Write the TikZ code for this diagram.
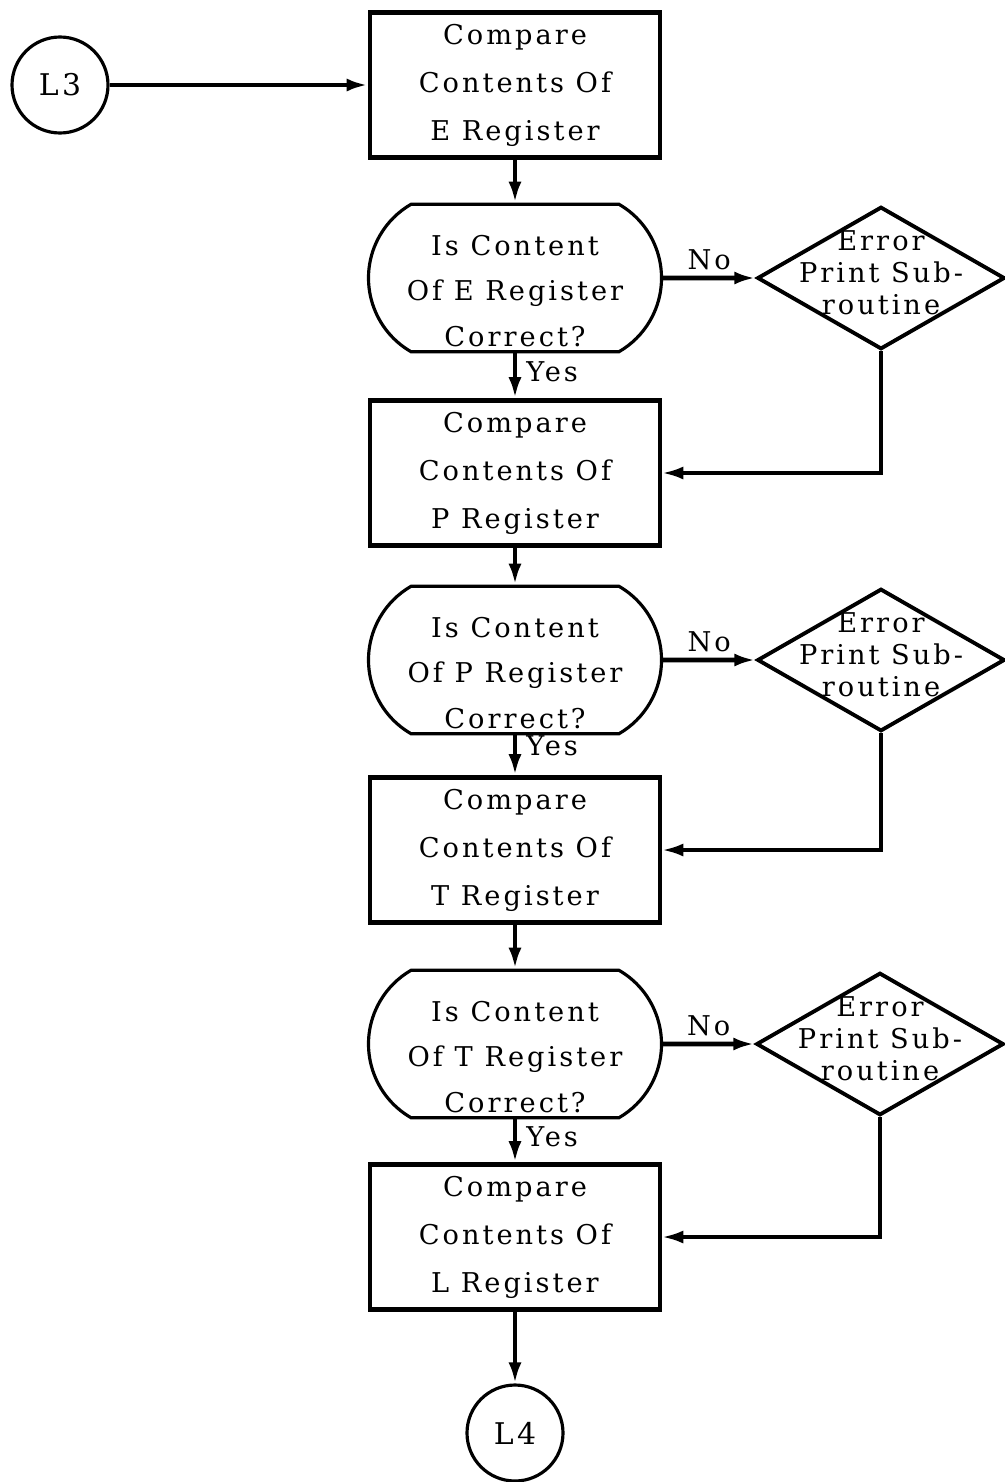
\documentclass[tikz,border=0pt]{standalone}
\usepackage{fontspec}
\setmainfont{DejaVu Serif}[LetterSpace=11]
\usetikzlibrary{shapes.geometric, shapes.misc, arrows.meta}
\newcommand{\flowtext}{\fontsize{15.5}{27.3}\selectfont}
\tikzstyle{process} = [rectangle, minimum width=5.8cm, minimum height=2.9cm, text centered, align=center, draw=black, line width=2.6pt, font=\flowtext]
\tikzstyle{decision} = [rounded rectangle, rounded rectangle arc length=120, minimum width=5.86cm, minimum height=2.95cm, inner sep=0pt, draw=black, line width=1.8pt]
\tikzstyle{dectext} = [align=center, yshift=-0.26cm, font=\fontsize{15.5}{26}\selectfont]
\tikzstyle{errsub} = [diamond, minimum width=4.95cm, minimum height=2.85cm, inner sep=0pt, draw=black, line width=2.2pt]
\tikzstyle{errtext} = [align=center, yshift=3pt, font=\fontsize{15.5}{18}\selectfont]
\tikzstyle{connector} = [circle, minimum size=1.92cm, draw=black, line width=1.8pt, font=\fontsize{17}{20}\selectfont]
\tikzstyle{arrow} = [line width=2.8pt, -{Latex[length=0.42cm, width=0.26cm]}]
\tikzstyle{back} = [line width=2pt, -{Latex[length=0.42cm, width=0.26cm]}]
\begin{document}
\begin{tikzpicture}[node distance=3.86cm]
\useasboundingbox (0,0) rectangle (20.1,-29.64);

%% NODES

\node (cmpE) [process] at (10.3,-1.7) {Compare\\Contents Of\\E Register};
\node (Lthree) [connector, left of=cmpE, node distance=9.1cm] {L3};
\node (chkE) [decision, below of=cmpE, label={[dectext]center:{Is Content\\Of E Register\\Correct?}}] {};
\node (errE) [errsub, right of=chkE, node distance=7.32cm, label={[errtext]center:{Error\\Print Sub-\\routine}}] {};
\node (cmpP) [process, below of=chkE, node distance=3.9cm] {Compare\\Contents Of\\P Register};
\node (chkP) [decision, below of=cmpP, node distance=3.74cm, label={[dectext]center:{Is Content\\Of P Register\\Correct?}}] {};
\node (errP) [errsub, right of=chkP, node distance=7.32cm, label={[errtext]center:{Error\\Print Sub-\\routine}}] {};
\node (cmpT) [process, below of=chkP, node distance=3.8cm] {Compare\\Contents Of\\T Register};
\node (chkT) [decision, below of=cmpT, node distance=3.88cm, label={[dectext]center:{Is Content\\Of T Register\\Correct?}}] {};
\node (errT) [errsub, right of=chkT, node distance=7.3cm, label={[errtext]center:{Error\\Print Sub-\\routine}}] {};
\node (cmpL) [process, below of=chkT] {Compare\\Contents Of\\L Register};
\node (Lfour) [connector, below of=cmpL, node distance=3.92cm] {L4};

%% ARROWS

\draw [arrow] (Lthree) -- (cmpE);
\draw [arrow] (cmpE) -- (chkE);
\draw [arrow] (chkE) -- node[above] {\flowtext No} (errE);
\draw [arrow] (chkE) -- node[right, pos=0.42, inner sep=5pt] {\flowtext Yes} (cmpP);
\draw [back] (errE.south) |- (cmpP.east);
\draw [arrow] (cmpP) -- (chkP);
\draw [arrow] (chkP) -- node[above] {\flowtext No} (errP);
\draw [arrow] (chkP) -- node[right, pos=0.25, inner sep=5pt] {\flowtext Yes} (cmpT);
\draw [back] (errP.south) |- (cmpT.east);
\draw [arrow] (cmpT) -- (chkT);
\draw [arrow] (chkT) -- node[above] {\flowtext No} (errT);
\draw [arrow] (chkT) -- node[right, pos=0.4, inner sep=5pt] {\flowtext Yes} (cmpL);
\draw [back] (errT.south) |- (cmpL.east);
\draw [arrow] (cmpL) -- (Lfour);

\end{tikzpicture}
\end{document}
